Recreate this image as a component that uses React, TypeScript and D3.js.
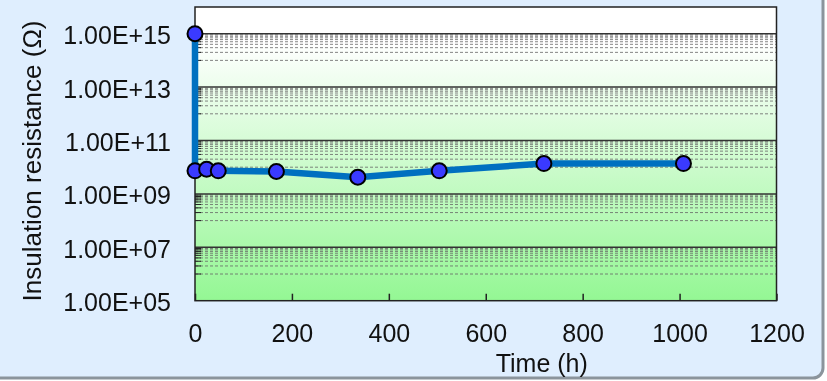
import React, { useRef, useEffect } from "react"
import * as d3 from "d3"

// hours of exposure and measured insulation resistance (ohm)
const hours = [0, 0, 24, 48, 168, 336, 504, 720, 1008]
const resistance = [1e15, 7.3e9, 8.4e9, 7.3e9, 6.9e9, 4.2e9, 7.3e9, 1.37e10, 1.37e10]

const xTicks = [0, 200, 400, 600, 800, 1000, 1200]
const yTicks = [1e5, 1e7, 1e9, 1e11, 1e13, 1e15]
const yTickLabels = ["1.00E+05", "1.00E+07", "1.00E+09", "1.00E+11", "1.00E+13", "1.00E+15"]
const minorFactors = [1, 2, 3, 4, 5, 6, 7, 8, 9]

const W = 827
const H = 381
const margin = { top: 7, right: 50, bottom: 80, left: 195 }
const font = "'Liberation Sans', Arial, sans-serif"

const App: React.FunctionComponent = () => {
	const svgRef = useRef<any>()

	useEffect(() => {
		const svg = d3.select(svgRef.current)
		svg.selectAll("*").remove()

		const x0 = margin.left
		const x1 = 776.5
		const y0 = margin.top
		const y1 = 300.7

		const xScale = d3.scaleLinear().domain([0, 1200]).range([x0, x1])
		const yScale = d3.scaleLog().domain([1e5, 1e16]).range([y1, y0])

		// panel
		svg.append("rect")
			.attr("x", -20).attr("y", -20)
			.attr("width", 843).attr("height", 398)
			.attr("rx", 10)
			.attr("fill", "#dfeefe")
			.attr("stroke", "#8b949c")
			.attr("stroke-width", 3)

		const defs = svg.append("defs")
		const grad = defs.append("linearGradient")
			.attr("id", "plotbg")
			.attr("x1", 0).attr("y1", 0).attr("x2", 0).attr("y2", 1)
		grad.append("stop").attr("offset", "0%").attr("stop-color", "#ffffff")
		grad.append("stop").attr("offset", "12%").attr("stop-color", "#ffffff")
		grad.append("stop").attr("offset", "100%").attr("stop-color", "#94f794")

		svg.append("rect")
			.attr("x", x0).attr("y", y0)
			.attr("width", x1 - x0).attr("height", y1 - y0)
			.attr("fill", "url(#plotbg)")

		// minor grid lines (k * 10^(e+1) inside every 2-decade band)
		const minorVals: number[] = []
		yTicks.slice(0, -1).forEach((v) => {
			minorFactors.forEach((k) => minorVals.push(k * v * 10))
		})

		svg.append("g")
			.selectAll("line")
			.data(minorVals)
			.join("line")
			.attr("x1", x0).attr("x2", x1)
			.attr("y1", (d) => yScale(d)).attr("y2", (d) => yScale(d))
			.attr("stroke", "#666")
			.attr("stroke-width", 0.8)
			.attr("stroke-dasharray", "3,2")

		svg.append("g")
			.selectAll("line")
			.data(minorVals)
			.join("line")
			.attr("x1", x0).attr("x2", x0 + 6)
			.attr("y1", (d) => yScale(d)).attr("y2", (d) => yScale(d))
			.attr("stroke", "#222")
			.attr("stroke-width", 1)

		// major grid lines
		svg.append("g")
			.selectAll("line")
			.data(yTicks.slice(1))
			.join("line")
			.attr("x1", x0).attr("x2", x1)
			.attr("y1", (d) => yScale(d)).attr("y2", (d) => yScale(d))
			.attr("stroke", "#333")
			.attr("stroke-width", 1.5)

		// plot frame
		svg.append("rect")
			.attr("x", x0).attr("y", y0)
			.attr("width", x1 - x0).attr("height", y1 - y0)
			.attr("fill", "none")
			.attr("stroke", "#222")
			.attr("stroke-width", 1.5)

		// x axis
		const xAxis = d3.axisBottom(xScale)
			.tickValues(xTicks)
			.tickSize(-7)
			.tickPadding(24)
			.tickFormat((d) => String(d))
		const gx = svg.append("g").attr("transform", `translate(0, ${y1})`).call(xAxis)
		gx.select(".domain").remove()
		gx.selectAll(".tick line").attr("stroke", "#222").attr("stroke-width", 1.5)
		gx.selectAll(".tick text")
			.attr("font-family", font)
			.attr("font-size", 25)
			.attr("fill", "#111")

		// y axis
		const yAxis = d3.axisLeft(yScale)
			.tickValues(yTicks)
			.tickSize(0)
			.tickPadding(24)
			.tickFormat((d, i) => yTickLabels[i])
		const gy = svg.append("g").attr("transform", `translate(${x0}, 0)`).call(yAxis)
		gy.select(".domain").remove()
		gy.selectAll(".tick text")
			.attr("font-family", font)
			.attr("font-size", 25)
			.attr("dy", "0.4em")
			.attr("fill", "#111")

		// axis titles
		svg.append("text")
			.attr("x", (x0 + x1) / 2 + 56)
			.attr("y", 372)
			.attr("text-anchor", "middle")
			.attr("font-family", font)
			.attr("font-size", 25)
			.attr("fill", "#111")
			.text("Time (h)")

		svg.append("text")
			.attr("transform", `translate(41, 161) rotate(-90)`)
			.attr("text-anchor", "middle")
			.attr("font-family", font)
			.attr("font-size", 26)
			.attr("fill", "#111")
			.text("Insulation resistance (Ω)")

		// series
		const pts = hours.map((h, i) => [h, resistance[i]] as [number, number])
		const line = d3.line<[number, number]>()
			.x((d) => xScale(d[0]))
			.y((d) => yScale(d[1]))

		svg.append("path")
			.attr("d", line(pts))
			.attr("fill", "none")
			.attr("stroke", "#0070c0")
			.attr("stroke-width", 6.5)
			.attr("stroke-linejoin", "round")

		svg.append("g")
			.selectAll("circle")
			.data(pts)
			.join("circle")
			.attr("cx", (d) => xScale(d[0]))
			.attr("cy", (d) => yScale(d[1]))
			.attr("r", 7.5)
			.attr("fill", "#3a3aff")
			.attr("stroke", "#000")
			.attr("stroke-width", 2)
	}, [])

	return (
		<div style={{ position: "fixed", left: 0, top: 0, width: W, height: H }}>
			<svg ref={svgRef} width={W} height={H} style={{ display: "block" }}></svg>
		</div>
	)
}

export default App
